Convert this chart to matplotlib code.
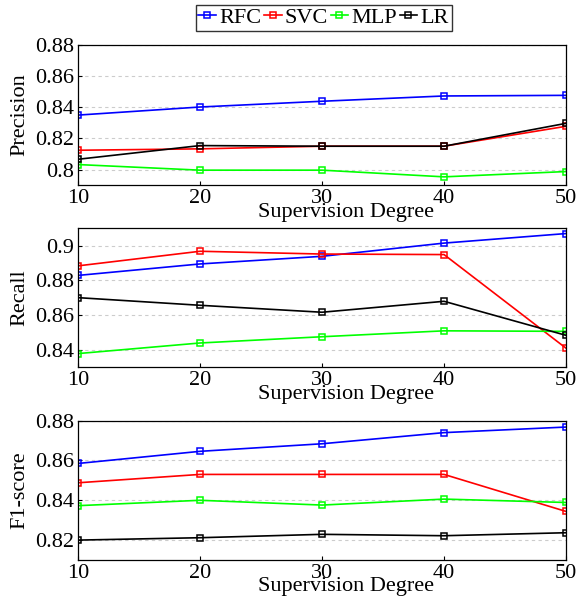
import matplotlib.pyplot as plt
from matplotlib.ticker import FormatStrFormatter

plt.rcParams['font.family'] = ['Liberation Serif', 'DejaVu Serif']

# supervision degree on the x axis
degree = [10, 20, 30, 40, 50]
models = ['RFC', 'SVC', 'MLP', 'LR']
colors = ['#0000ff', '#ff0000', '#00ff00', '#000000']

# Precision
prec_rfc = [0.8350, 0.8402, 0.8439, 0.8473, 0.8477]
prec_svc = [0.8124, 0.8133, 0.8150, 0.8150, 0.8278]
prec_mlp = [0.8032, 0.7996, 0.7996, 0.7953, 0.7987]
prec_lr = [0.8066, 0.8154, 0.8150, 0.8150, 0.8297]

# Recall
rec_rfc = [0.8829, 0.8895, 0.8939, 0.9015, 0.9070]
rec_svc = [0.8884, 0.8968, 0.8952, 0.8949, 0.8410]
rec_mlp = [0.8379, 0.8440, 0.8476, 0.8510, 0.8507]
rec_lr = [0.8701, 0.8657, 0.8617, 0.8680, 0.8484]

# F1-score
f1_rfc = [0.8585, 0.8646, 0.8684, 0.8740, 0.8768]
f1_svc = [0.8488, 0.8530, 0.8530, 0.8530, 0.8344]
f1_mlp = [0.8373, 0.8400, 0.8376, 0.8406, 0.8389]
f1_lr = [0.8200, 0.8212, 0.8229, 0.8222, 0.8237]

panels = [
    ('Precision', [prec_rfc, prec_svc, prec_mlp, prec_lr], (0.79, 0.88), [0.80, 0.82, 0.84, 0.86, 0.88]),
    ('Recall', [rec_rfc, rec_svc, rec_mlp, rec_lr], (0.83, 0.91), [0.84, 0.86, 0.88, 0.90]),
    ('F1-score', [f1_rfc, f1_svc, f1_mlp, f1_lr], (0.81, 0.88), [0.82, 0.84, 0.86, 0.88]),
]

fig = plt.figure(figsize=(5.77, 5.99), dpi=100)
positions = [
    [0.1352, 0.691, 0.8458, 0.2337],
    [0.1352, 0.3868, 0.8458, 0.232],
    [0.1352, 0.0651, 0.8458, 0.2326],
]

handles = []
for pos, (name, series, ylim, yticks) in zip(positions, panels):
    ax = fig.add_axes(pos)
    for vals, c, m in zip(series, colors, models):
        h, = ax.plot(degree, vals, color=c, lw=1.2, marker='s', ms=4.5,
                     mfc='none', mew=1.1, label=m)
        if len(handles) < 4:
            handles.append(h)
    ax.set_xlim(10, 50)
    ax.set_ylim(*ylim)
    ax.set_xticks(degree)
    ax.set_yticks(yticks)
    ax.yaxis.set_major_formatter(FormatStrFormatter('%g'))
    ax.grid(axis='y', color='#cccccc', ls=(0, (3, 3)), lw=0.8)
    ax.set_axisbelow(True)
    ax.tick_params(direction='in', length=3, labelsize=16, pad=3)
    ax.set_ylabel(name, fontsize=16, labelpad=4)
    ax.set_xlabel('Supervision Degree', fontsize=16)
    ax.xaxis.set_label_coords(0.55, -0.125)
    ax.xaxis.label.set_va('top')
    for s in ax.spines.values():
        s.set_linewidth(0.9)

fig.legend(handles=handles, loc='upper center', bbox_to_anchor=(0.561, 0.992),
           ncol=4, fontsize=16, frameon=True, fancybox=False, edgecolor='black',
           handlelength=0.8, handletextpad=0.15, columnspacing=0.1,
           borderpad=0.12, borderaxespad=0)

fig.savefig('out.png', dpi=100)
